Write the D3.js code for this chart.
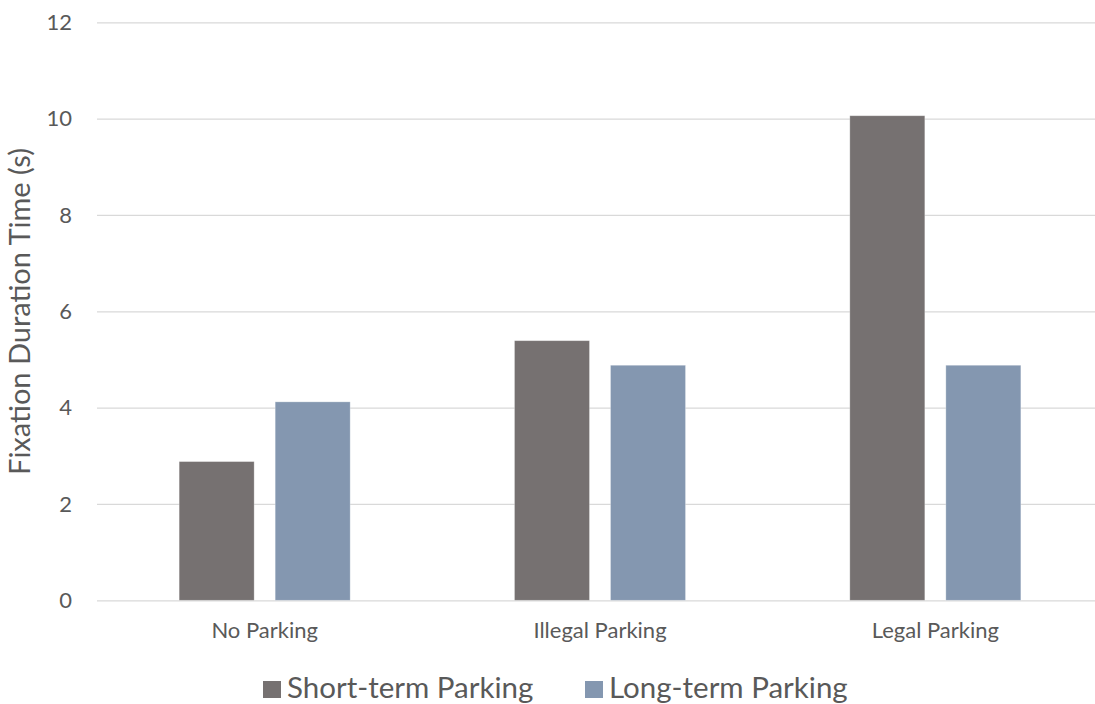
<!DOCTYPE html>
<html>
<head>
<meta charset="utf-8">
<script src="https://cdn.jsdelivr.net/npm/d3@7"></script>
<style>
  html, body { margin: 0; padding: 0; background: #fff; }
  svg { display: block; }
  text { font-family: Lato, "Open Sans", sans-serif; fill: #595959; }
</style>
</head>
<body>
<svg id="chart" width="1095" height="704"></svg>
<script>
const categories = ["No Parking", "Illegal Parking", "Legal Parking"];
const seriesNames = ["Short-term Parking", "Long-term Parking"];
const shortTerm = [2.88, 5.39, 10.06];
const longTerm = [4.12, 4.88, 4.88];
const yTicks = [0, 2, 4, 6, 8, 10, 12];
const colors = ["#767171", "#8497B0"];

(function () {
const svg = d3.select("#chart");
const mLeft = 97, mRight = 1103, mTop = 22.3, mBottom = 600.3;

const y = d3.scaleLinear().domain([0, 12]).range([mBottom, mTop]);
const x0 = d3.scaleBand().domain(categories).range([mLeft, mRight])
  .paddingInner(0.49).paddingOuter(0.245);
const x1 = d3.scaleBand().domain(seriesNames).range([0, x0.bandwidth()])
  .paddingInner(0.219).paddingOuter(0);

// gridlines
const yAxis = d3.axisLeft(y).tickValues(yTicks).tickSize(-(mRight - mLeft)).tickPadding(25).tickFormat(d3.format("d"));
const gy = svg.append("g").attr("transform", `translate(${mLeft},0)`).call(yAxis);
gy.select(".domain").remove();
gy.selectAll(".tick line").attr("stroke", "#D9D9D9").attr("stroke-width", 1.3);
gy.selectAll(".tick text").style("font-size", "22px").attr("fill", "#595959");

// bars
const data = categories.map((c, i) => ({ cat: c, vals: [shortTerm[i], longTerm[i]] }));
const groups = svg.append("g").selectAll("g").data(data).join("g")
  .attr("transform", d => `translate(${x0(d.cat)},0)`);
groups.selectAll("rect").data(d => d.vals.map((v, j) => ({ s: seriesNames[j], v, j })))
  .join("rect")
  .attr("x", d => x1(d.s))
  .attr("width", x1.bandwidth())
  .attr("y", d => y(d.v))
  .attr("height", d => y(0) - y(d.v))
  .attr("fill", d => colors[d.j])
  .attr("stroke", "#ffffff").attr("stroke-opacity", 0.35).attr("stroke-width", 0.8);

// category labels
const xAxis = d3.axisBottom(x0).tickSize(0).tickPadding(22);
const gx = svg.append("g").attr("transform", `translate(0,${mBottom})`).call(xAxis);
gx.select(".domain").remove();
gx.selectAll(".tick text").style("font-size", "22px").attr("fill", "#595959");

// y axis title
svg.append("text")
  .attr("transform", `translate(30,${311.5}) rotate(-90)`)
  .attr("text-anchor", "middle")
  .style("font-size", "29px")
  .text("Fixation Duration Time (s)");

// legend
const legendX = [263, 585];
const lg = svg.append("g").selectAll("g").data(seriesNames).join("g")
  .attr("transform", (d, i) => `translate(${legendX[i]},681)`);
lg.append("rect").attr("width", 18).attr("height", 17).attr("fill", (d, i) => colors[i]);
lg.append("text").attr("x", 24).attr("y", 17).style("font-size", "29.5px").text(d => d);
})();
</script>
</body>
</html>
